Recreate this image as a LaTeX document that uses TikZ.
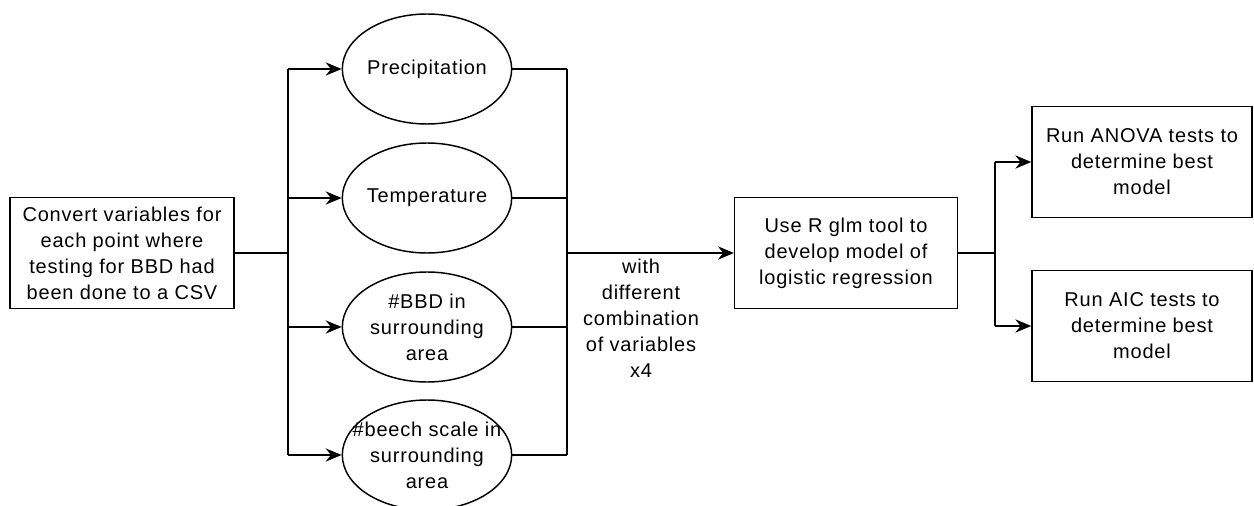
\documentclass[tikz,border=0pt]{standalone}
\usepackage{fontspec}
\setmainfont{Liberation Sans}[LetterSpace=4]
\usetikzlibrary{shapes.geometric,arrows.meta}

\begin{document}
\begin{tikzpicture}[
   x=0.75pt, y=-0.75pt,
   line width=1.1pt,
   >={Stealth[length=12pt, width=10pt, inset=4pt]},
   every node/.append style={align=center, font=\fontsize{15}{19.5}\selectfont},  % <-- line breaks
   stepbox/.style={draw, rectangle, inner sep=1pt, minimum width=168pt, minimum height=83pt},
   oval/.style={draw, ellipse, inner sep=0pt, minimum width=127pt, minimum height=82.5pt}
]
\useasboundingbox (0,0) rectangle (1254,506);

\node[stepbox] (convert) at (122,253) {Convert variables for\\each point where\\testing for BBD had\\been done to a CSV};
\node[oval, label={center:Precipitation}] (precip) at (427,69) {};
\node[oval, label={center:Temperature}] (temp) at (427,198) {};
\node[oval, label={center:\#BBD in\\surrounding\\area}] (bbd) at (427,327) {};
\node[oval, label={center:\#beech scale in\\surrounding\\area}] (beech) at (427,455) {};
\node (combo) at (641,318) {with\\different\\combination\\of variables\\x4};
\node[stepbox, minimum width=167pt] (glm) at (846,253) {Use R glm tool to\\develop model of\\logistic regression};
\node[stepbox, minimum width=165pt] (anova) at (1142,162) {Run ANOVA tests to\\determine best\\model};
\node[stepbox, minimum width=165pt] (aic) at (1142,326) {Run AIC tests to\\determine best\\model};

\coordinate (fanout) at (288,253);
\coordinate (fanin) at (567,253);
\coordinate (fork) at (995,253);

\draw (convert) -- (fanout);
\draw (fanout |- precip) -- (fanout |- beech);
\foreach \n in {precip,temp,bbd,beech} {
    \draw[->] (fanout |- \n) -- (\n);
    \draw (\n) -- (fanin |- \n);
}
\draw (fanin |- precip) -- (fanin |- beech);
\draw[->] (fanin) -- (glm);
\draw (glm) -- (fork);
\draw (fork |- anova) -- (fork |- aic);
\draw[->] (fork |- anova) -- (anova);
\draw[->] (fork |- aic) -- (aic);
\end{tikzpicture}
\end{document}
